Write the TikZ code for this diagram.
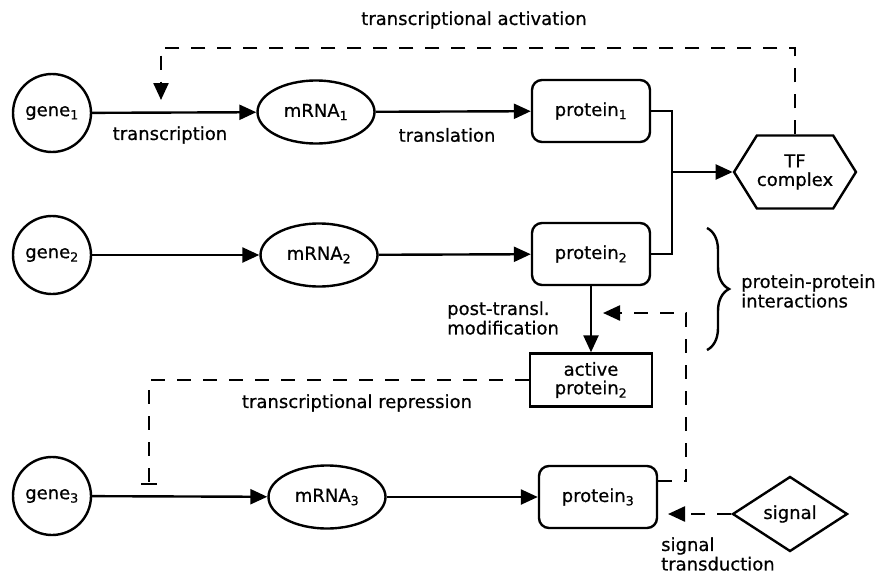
\documentclass[tikz,border=0pt]{standalone}
\usepackage{fontspec}
\setmainfont{DejaVu Sans}[FakeBold=0.6]
\usetikzlibrary{arrows.meta,shapes.geometric,shapes.symbols,decorations.pathreplacing}
\begin{document}
\begin{tikzpicture}[x=1pt,y=-1pt,
  every node/.style={font=\fontsize{18}{21.5}\selectfont},
  line width=2.4pt,
  ar/.style={-{Triangle[length=17pt,width=15pt]}},
  dsh/.style={dash pattern=on 14pt off 12pt},
  gen/.style={draw,circle,minimum size=78pt,inner sep=0pt},
  rna/.style={draw,ellipse,minimum width=117pt,minimum height=63pt,inner sep=0pt},
  prot/.style={draw,rectangle,rounded corners=10pt,minimum width=118pt,minimum height=62pt,inner sep=0pt},
  lbl/.style={inner sep=0pt}]
\useasboundingbox (0,0) rectangle (882,578);
% row 1
\node[gen] (g1) at (52,113) {gene\textsubscript{1}};
\node[rna] (m1) at (316,112) {mRNA\textsubscript{1}};
\node[prot] (p1) at (591,111) {protein\textsubscript{1}};
\node[draw,signal,signal to=east and west,signal pointer angle=116,minimum width=120pt,minimum height=73pt,inner sep=0pt,align=center] (tf) at (795,172) {TF\\[-3pt]complex};
% row 2
\node[gen] (g2) at (52,255) {gene\textsubscript{2}};
\node[rna] (m2) at (319,255) {mRNA\textsubscript{2}};
\node[prot] (p2) at (591,254) {protein\textsubscript{2}};
\node[draw,rectangle,minimum width=122pt,minimum height=53pt,inner sep=0pt,align=center] (ap) at (591,380) {active\\[-3pt]protein\textsubscript{2}};
% row 3
\node[gen] (g3) at (52,496) {gene\textsubscript{3}};
\node[rna] (m3) at (327,497) {mRNA\textsubscript{3}};
\node[prot] (p3) at (598,497) {protein\textsubscript{3}};
\node[draw,diamond,minimum width=115pt,minimum height=75pt,inner sep=0pt] (sig) at (790,514) {signal};
% coordinates
\coordinate (j) at (672,172);
\coordinate (act) at (161,100);
\coordinate (rep) at (149,485);
\coordinate (mod) at (603,313);
\coordinate (st) at (668,514);
\coordinate (br1) at (707,228);
\coordinate (br2) at (707,350);
% solid arrows
\draw[ar] (g1) -- (m1);
\draw[ar] (m1) -- (p1);
\draw[ar] (g2) -- (m2);
\draw[ar] (m2) -- (p2);
\draw[ar] (g3) -- (m3);
\draw[ar] (m3) -- (p3);
\draw (p1.east) -| (j) |- (p2.east);
\draw[ar] (j) -- (tf.west);
\draw[ar] (p2.south) -- (ap.north);
% dashed
\draw[ar,dsh] (tf.north) -- (tf.north |- 0,48) -| (act);
\draw[dsh,-{Bar[width=16pt]}] (ap.west) -| (rep);
\draw[ar,dsh] (p3.east |- 0,481) -- (686,481) -- (686,313) -- (mod);
\draw[ar,dsh] (sig.west) -- (st);
% brace
\draw[decorate,decoration={brace,amplitude=22pt,aspect=0.5}] (br1) -- (br2);
% labels
\node[lbl] (la) at (474,20) {transcriptional activation};
\node[lbl] (lt) at (170,135) {transcription};
\node[lbl] (ltr) at (447,135) {translation};
\node[lbl,align=left,anchor=west] (lpm) at (446,318) {post-transl.\\[-2pt]modification};
\node[lbl] (lr) at (357,403) {transcriptional repression};
\node[lbl,align=left,anchor=west] (lpp) at (740,291) {protein-protein\\[-2pt]interactions};
\node[lbl,align=left,anchor=west] (ls) at (660,554) {signal\\[-2pt]transduction};
\end{tikzpicture}
\end{document}
